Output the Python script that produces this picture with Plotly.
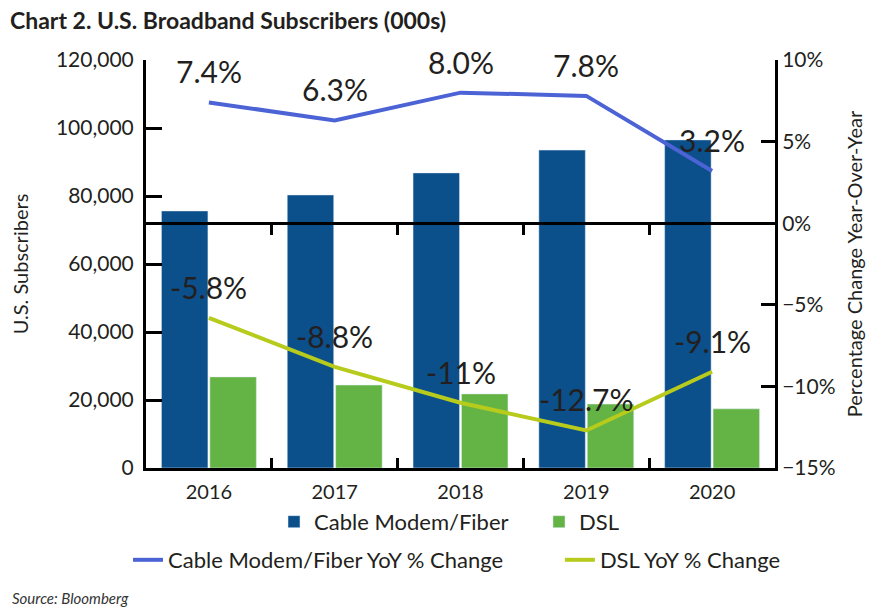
import plotly.graph_objects as go

# data
years = ["2016", "2017", "2018", "2019", "2020"]
cable_subs = [75600, 80300, 86800, 93500, 96500]
dsl_subs = [26800, 24400, 21800, 18800, 17400]
cable_yoy = [7.4, 6.3, 8.0, 7.8, 3.2]
dsl_yoy = [-5.8, -8.8, -11.0, -12.7, -9.1]
cable_lbl = ["7.4%", "6.3%", "8.0%", "7.8%", "3.2%"]
dsl_lbl = ["-5.8%", "-8.8%", "-11%", "-12.7%", "-9.1%"]

left_range = [0, 120000]
right_range = [-15, 10]

FONT = "Lato"
TXT = "#231f20"
BLUE_BAR = "#0b4f8b"
GREEN_BAR = "#63b445"
BLUE_LINE = "#4c63d5"
YELLOW_LINE = "#b7cb1c"

idx = list(range(len(years)))

fig = go.Figure()
fig.add_trace(go.Bar(x=years, y=cable_subs, name="Cable Modem/Fiber",
                     marker_color=BLUE_BAR, legend="legend"))
fig.add_trace(go.Bar(x=years, y=dsl_subs, name="DSL",
                     marker_color=GREEN_BAR, legend="legend4"))
fig.add_trace(go.Scatter(x=years, y=cable_yoy, name="Cable Modem/Fiber YoY % Change",
                         mode="lines", line=dict(color=BLUE_LINE, width=4),
                         yaxis="y2", legend="legend2"))
fig.add_trace(go.Scatter(x=years, y=dsl_yoy, name="DSL YoY % Change",
                         mode="lines", line=dict(color=YELLOW_LINE, width=4),
                         yaxis="y2", legend="legend3"))
# nothing drawn; only makes the 0% axis (x2) exist
fig.add_trace(go.Scatter(x=idx, y=cable_yoy, mode="none", xaxis="x2", yaxis="y2",
                         showlegend=False, hoverinfo="skip"))

# value labels above the line points (x given as category index)
for ys, ls in [(cable_yoy, cable_lbl), (dsl_yoy, dsl_lbl)]:
    for i, (y, t) in enumerate(zip(ys, ls)):
        fig.add_annotation(x=i, y=y, yref="y2", text=t, showarrow=False,
                           yshift=31, font=dict(size=30, color=TXT, family=FONT))

fig.add_annotation(text="<i>Source: Bloomberg</i>", xref="paper", yref="paper",
                   x=-0.216, y=-0.319, xanchor="left", yanchor="middle",
                   showarrow=False, font=dict(size=15, color="#333", family=FONT))

xr = [-0.5, len(years) - 0.5]
zero_pos = (0 - right_range[0]) / (right_range[1] - right_range[0])

leg = dict(orientation="h", xanchor="left", yanchor="middle",
           font=dict(size=22, color=TXT), bgcolor="rgba(0,0,0,0)")

fig.update_layout(
    width=883, height=612,
    margin=dict(l=138, r=116, t=52, b=152),
    paper_bgcolor="white", plot_bgcolor="white",
    font=dict(family=FONT, color=TXT, size=20),
    title=dict(text="<b>Chart 2. U.S. Broadband Subscribers (000s)</b>",
               x=2 / 883, xanchor="left", y=1 - 13 / 612, yanchor="middle",
               font=dict(size=23, color=TXT, family=FONT)),
    barmode="group", bargap=0.23, bargroupgap=0.04,
    xaxis=dict(type="category", range=xr, showline=True, linecolor="black",
               linewidth=3, ticks="inside", ticklen=10, tickwidth=3,
               tickcolor="black", tickson="boundaries", showgrid=False,
               ticklabelstandoff=4, tickfont=dict(size=20, color=TXT)),
    # second x axis drawn along the 0% line, with ticks hanging below it
    xaxis2=dict(overlaying="x", anchor="free", position=zero_pos, side="bottom",
                range=xr, tickvals=[0.5, 1.5, 2.5, 3.5],
                showticklabels=False, showline=True, linecolor="black", linewidth=3,
                ticks="outside", ticklen=10, tickwidth=3, tickcolor="black",
                showgrid=False, zeroline=False),
    yaxis=dict(range=left_range, dtick=20000, tickformat=",", showline=True,
               linecolor="black", linewidth=3, ticks="inside", ticklen=16,
               tickwidth=3, tickcolor="black", showgrid=False, zeroline=False,
               ticklabelstandoff=5, tickfont=dict(size=21, color=TXT),
               title=dict(text="U.S. Subscribers", standoff=23,
                          font=dict(size=20, color=TXT))),
    yaxis2=dict(range=right_range, dtick=5, ticksuffix="%", overlaying="y",
                side="right", showline=True, linecolor="black", linewidth=3,
                ticks="inside", ticklen=14, tickwidth=3, tickcolor="black",
                showgrid=False, zeroline=False,
                tickfont=dict(size=21, color=TXT),
                title=dict(text="Percentage Change Year-Over-Year", standoff=14,
                           font=dict(size=20, color=TXT))),
    legend=dict(leg, x=0.2035, y=-0.132),
    legend4=dict(leg, x=0.6248, y=-0.132),
    legend2=dict(leg, x=-0.0286, y=-0.2255),
    legend3=dict(leg, x=0.658, y=-0.2255),
)

fig.write_html("out.html")
